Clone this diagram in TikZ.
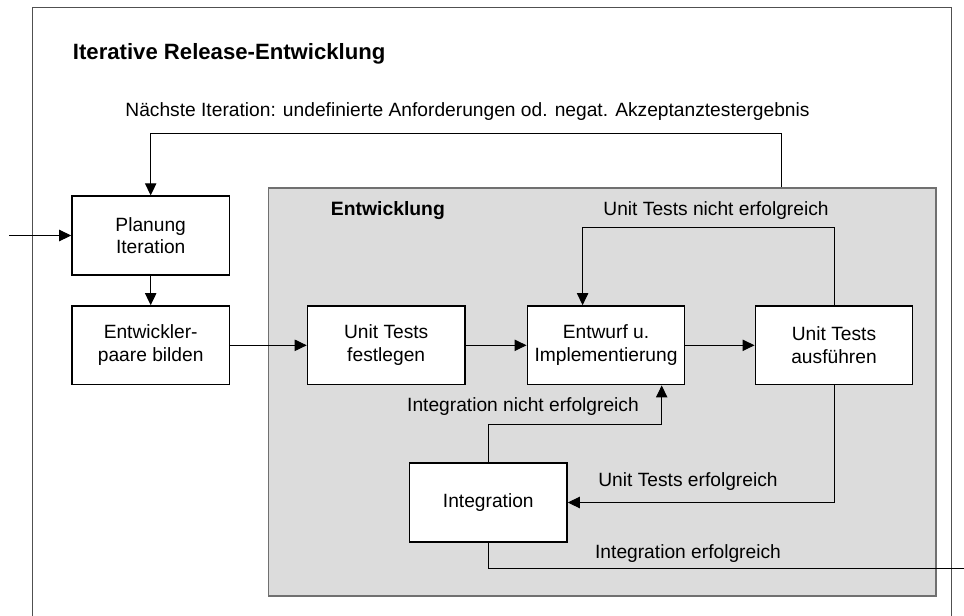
\documentclass[tikz,border=0pt]{standalone}
\usepackage{fontspec}
\setmainfont{Liberation Sans}
\usetikzlibrary{arrows.meta}
\definecolor{devfill}{HTML}{DCDCDC}
\definecolor{devline}{HTML}{707070}
\definecolor{framecol}{HTML}{505050}
\begin{document}
\begin{tikzpicture}[x=0.75pt,y=-0.75pt,
  stepbox/.style={draw=black,line width=1.2pt,fill=white,minimum width=118pt,minimum height=59pt,
    align=center,inner sep=0pt,font=\fontsize{14.4pt}{17pt}\selectfont},
  conn/.style={line width=0.75pt,draw=black},
  arr/.style={conn,-{Triangle[length=9pt,width=8.5pt]}},
  lbl/.style={font=\fontsize{14.4pt}{17pt}\selectfont,inner sep=0pt},
  head/.style={font=\fontsize{14.5pt}{17pt}\selectfont\bfseries,inner sep=0pt,anchor=west}]
\useasboundingbox (0,0) rectangle (964,615);
\clip (0,0) rectangle (964,615);
\fill[white] (0,0) rectangle (964,615);
% outer frame (its lower edge lies below the visible area)
\draw[framecol,line width=0.9pt] (32.7,7.3) rectangle (951.7,640);
\node[head,font=\fontsize{16.6pt}{19pt}\selectfont\bfseries] (title) at (72.7,54) {Iterative Release-Entwicklung};
\node[lbl] (nextlbl) at (467.5,112) {Nächste Iteration: undefinierte Anforderungen od. negat. Akzeptanztestergebnis};
% development area
\node[draw=devline,fill=devfill,line width=1pt,minimum width=500.5pt,minimum height=306pt,inner sep=0pt] (dev) at (602.35,392) {};
\node[head] (devtitle) at (330.7,210.7) {Entwicklung};
% steps
\node[stepbox] (plan) at (150.7,235.5) {Planung\\Iteration};
\node[stepbox] (pair) at (150.7,345.3) {Entwickler-\\paare bilden};
\node[stepbox] (utf) at (386.2,345.3) {Unit Tests\\festlegen};
\node[stepbox] (impl) at (606,345.3) {Entwurf u.\\Implementierung};
\node[stepbox] (uta) at (834,345.3) {Unit Tests\\ausführen};
\node[stepbox] (integ) at (488.3,502.5) {Integration};
% labels
\node[lbl] (l1) at (716,211) {Unit Tests nicht erfolgreich};
\node[lbl] (l2) at (523,406.7) {Integration nicht erfolgreich};
\node[lbl] (l3) at (688,481.7) {Unit Tests erfolgreich};
\node[lbl] (l4) at (688,553.3) {Integration erfolgreich};
% helper points for the routed connectors
\coordinate (entry) at (9,235.5);
\coordinate (fbr) at (781,133.3);
\coordinate (utloop) at (582.6,227.7);
\coordinate (inloop) at (661.7,424);
\coordinate (exit) at (970,568.3);
% connectors
\draw[arr] (entry) -- (plan.west);
\draw[arr] (plan.south) -- (pair.north);
\draw[arr] (pair.east) -- (utf.west);
\draw[arr] (utf.east) -- (impl.west);
\draw[arr] (impl.east) -- (uta.west);
\draw[arr] (uta.north) |- (utloop) -- (utloop |- impl.north);
\draw[arr] (uta.south) |- (integ.east);
\draw[arr] (integ.north) |- (inloop) -- (inloop |- impl.south);
\draw[conn] (integ.south) |- (exit);
\draw[arr] (fbr |- dev.north) -- (fbr) -| (plan.north);
\end{tikzpicture}
\end{document}
